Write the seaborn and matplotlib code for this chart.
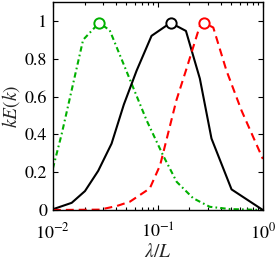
"""
Normalised premultiplied spectra kE(k) against wavelength lambda/L
for three cases, each with an open circle at its peak.
"""

import numpy as np
import pandas as pd
import matplotlib
matplotlib.use("Agg")
import matplotlib.pyplot as plt
import seaborn as sns

# Data
black_x = [0.0100, 0.0151, 0.0202, 0.0270, 0.0362, 0.0474, 0.0627, 0.0870,
           0.132, 0.185, 0.251, 0.324, 0.503, 1.0]
black_y = [0.004, 0.038, 0.10, 0.207, 0.351, 0.558, 0.737, 0.921,
           0.99, 0.947, 0.695, 0.378, 0.109, 0.0]

green_x = [0.0100, 0.0121, 0.0194, 0.0276, 0.0348, 0.0781, 0.112, 0.151,
           0.217, 0.312, 0.484, 1.0]
green_y = [0.22, 0.40, 0.90, 0.99, 0.95, 0.474, 0.289, 0.149,
           0.062, 0.017, 0.005, 0.0]

red_x = [0.0100, 0.0280, 0.0405, 0.0541, 0.0837, 0.105, 0.150, 0.187,
         0.251, 0.275, 0.337, 0.450, 0.626, 1.0]
red_y = [0.0, 0.002, 0.021, 0.044, 0.114, 0.237, 0.58, 0.746,
         0.974, 0.99, 0.965, 0.737, 0.526, 0.27]

y_ticks = [0, 0.2, 0.4, 0.6, 0.8, 1]
y_tick_labels = ["0", "0.2", "0.4", "0.6", "0.8", "1"]

# Style: MATLAB-like box with inward ticks and a Times-like font
sns.set_style("ticks")
plt.rcParams["font.family"] = ["STIXGeneral", "Liberation Serif", "DejaVu Serif"]
plt.rcParams["mathtext.fontset"] = "stix"
plt.rcParams["xtick.direction"] = "in"
plt.rcParams["ytick.direction"] = "in"

fig = plt.figure(figsize=(2.77, 2.66), dpi=100)
ax = fig.add_axes([0.191, 0.2105, 0.758, 0.782])

curves = [
    (green_x, green_y, "#00b000", (2.6, 1.5, 0.8, 1.5)),
    (black_x, black_y, "black", ""),
    (red_x, red_y, "#ff0000", (3.8, 2.4)),
]

for xs, ys, color, dash in curves:
    df = pd.DataFrame({"x": xs, "y": ys})
    sns.lineplot(data=df, x="x", y="y", ax=ax, color=color, linewidth=1.5,
                 dashes=False, sort=False)
    if dash:
        ax.lines[-1].set_dashes(dash)
    # open circle at the peak of the curve
    peak = df.loc[[df["y"].idxmax()]]
    sns.scatterplot(data=peak, x="x", y="y", ax=ax, color="white",
                    edgecolor=color, linewidth=1.4, s=55, zorder=5)

ax.set_xscale("log")
ax.set_xlim(1e-2, 1)
ax.set_ylim(0, 1.1)
ax.set_yticks(y_ticks)
ax.set_yticklabels(y_tick_labels)
ax.set_xticks([1e-2, 1e-1, 1])
ax.set_xticklabels([r"$10^{-2}$", r"$10^{-1}$", r"$10^{0}$"])

ax.tick_params(which="both", top=True, right=True, labelsize=13,
               width=0.8, colors="black")
ax.tick_params(which="major", length=3.5)
ax.tick_params(axis="x", which="major", pad=9)
ax.tick_params(axis="y", which="major", pad=4)
ax.tick_params(which="minor", length=2)
for side in ax.spines.values():
    side.set_linewidth(1.0)
    side.set_color("black")

ax.set_xlabel(r"$\lambda/L$", fontsize=14, labelpad=0)
ax.set_ylabel(r"$kE(k)$", fontsize=14, labelpad=2)

fig.savefig("out.png", dpi=100)
